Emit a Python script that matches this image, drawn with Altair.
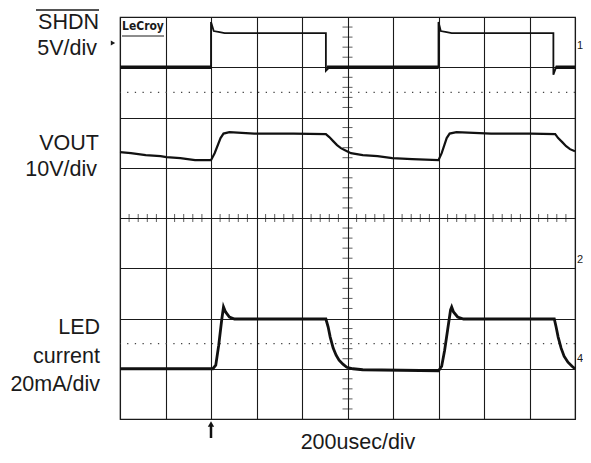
import altair as alt
import pandas as pd

# time axis in microseconds (200 us/div, 10 div), vertical in screen divisions (8 div)
shdn_t = [0, 400, 400, 412, 438, 460, 905, 905, 920, 1400, 1400, 1410, 1436, 1458, 1905, 1905, 1917, 2000]
shdn_y = [7.0, 7.0, 7.9, 7.72, 7.70, 7.68, 7.68, 6.93, 7.0, 7.0, 7.9, 7.72, 7.70, 7.68, 7.68, 6.85, 7.0, 7.0]

shdn_low_start = [0, 910, 1915]
shdn_low_end = [400, 1400, 2000]

vout_t = [0, 48, 113, 178, 204, 265, 330, 400, 416, 442, 455, 481, 590, 763, 905, 920, 937, 954, 971,
          989, 1015, 1067, 1132, 1197, 1284, 1400, 1414, 1436, 1449, 1479, 1631, 1805, 1913, 1926,
          1944, 1961, 1978, 2000]
vout_y = [5.31, 5.29, 5.25, 5.23, 5.21, 5.19, 5.15, 5.15, 5.29, 5.59, 5.68, 5.71, 5.68, 5.68, 5.67, 5.61,
          5.53, 5.45, 5.39, 5.35, 5.29, 5.25, 5.23, 5.19, 5.17, 5.15, 5.29, 5.59, 5.68, 5.71, 5.68, 5.68,
          5.67, 5.59, 5.51, 5.43, 5.37, 5.33]

led_t = [0, 408, 421, 434, 447, 455, 464, 481, 503, 905, 915, 924, 937, 950, 963, 980, 997, 1024, 1067,
         1400, 1414, 1427, 1440, 1453, 1458, 1466, 1484, 1510, 1909, 1917, 1926, 1939, 1952, 1969,
         1987, 2000]
led_y = [1.0, 1.0, 1.07, 1.47, 1.97, 2.23, 2.13, 2.03, 1.99, 1.99, 1.83, 1.63, 1.41, 1.27, 1.17, 1.09,
         1.03, 1.0, 0.98, 0.96, 1.05, 1.37, 1.77, 2.17, 2.23, 2.13, 2.03, 1.99, 1.99, 1.83, 1.63, 1.41,
         1.25, 1.13, 1.05, 1.0]

x_grid = [0, 200, 400, 600, 800, 1000, 1200, 1400, 1600, 1800, 2000]
y_grid = [0, 1, 2, 3, 4, 5, 6, 7, 8]
center_x_ticks = [i * 40 for i in range(1, 50) if i % 5 != 0]
center_y_ticks = [i * 0.2 for i in range(1, 40) if i % 5 != 0]
dotted_levels = [6.5, 1.5]
trigger_t = [400]

FONT = "Liberation Sans"
INK = "#1a1a1a"
FS = 21.5

xs = alt.Scale(domain=[0, 2000], nice=False, zero=False)
ys = alt.Scale(domain=[0, 8], nice=False, zero=False)

one = pd.DataFrame({"a": [0]})

grid = alt.Chart(one).mark_point(opacity=0).encode(
    x=alt.X("a:Q", scale=xs, axis=alt.Axis(values=x_grid, grid=True, gridColor=INK, gridWidth=1.1,
                                           gridOpacity=1, labels=False, ticks=False, domain=False, title=None)),
    y=alt.Y("a:Q", scale=ys, axis=alt.Axis(values=y_grid, grid=True, gridColor=INK, gridWidth=1.1,
                                           gridOpacity=1, labels=False, ticks=False, domain=False, title=None)),
)

dots = alt.Chart(pd.DataFrame({"y": dotted_levels})).mark_rule(
    color="#444", strokeWidth=1.2, strokeDash=[1.3, 6.4]
).encode(y=alt.Y("y:Q", scale=ys))

xticks = alt.Chart(pd.DataFrame({"t": center_x_ticks})).mark_tick(
    orient="vertical", size=8, thickness=1, color=INK
).encode(x=alt.X("t:Q", scale=xs), y=alt.datum(4, scale=ys))

yticks = alt.Chart(pd.DataFrame({"v": center_y_ticks})).mark_tick(
    orient="horizontal", size=10, thickness=1, color=INK
).encode(y=alt.Y("v:Q", scale=ys), x=alt.datum(1000, scale=xs))

def trace(t, y, w):
    return alt.Chart(pd.DataFrame({"t": t, "y": y, "i": list(range(len(t)))})).mark_line(
        color="#111", strokeWidth=w, interpolate="linear"
    ).encode(x=alt.X("t:Q", scale=xs), y=alt.Y("y:Q", scale=ys), order="i:Q")

shdn = trace(shdn_t, shdn_y, 1.8)
shdn_low = alt.Chart(pd.DataFrame({"a": shdn_low_start, "b": shdn_low_end, "y": [7.0] * 3})).mark_rule(
    color="#111", strokeWidth=3.5
).encode(x=alt.X("a:Q", scale=xs), x2="b:Q", y=alt.Y("y:Q", scale=ys))
vout = trace(vout_t, vout_y, 2.2)
led = trace(led_t, led_y, 2.8)

trig = alt.Chart(pd.DataFrame({"t": trigger_t})).mark_rule(color="#111", strokeWidth=2.5).encode(
    x=alt.X("t:Q", scale=xs), y=alt.value(409), y2=alt.value(421))
trig_head = alt.Chart(pd.DataFrame({"t": trigger_t})).mark_point(
    shape="triangle-up", filled=True, color="#111", size=40, opacity=1
).encode(x=alt.X("t:Q", scale=xs), y=alt.value(407))

def label(txt, x, y, size=FS, align="right", weight="normal", font=FONT, baseline="middle"):
    return alt.Chart(one).mark_text(text=txt, align=align, baseline=baseline, fontSize=size,
                                    font=font, fontWeight=weight, color=INK).encode(
        x=alt.value(x), y=alt.value(y))

texts = [
    label("SHDN", -21, 6),
    label("5V/div", -23, 32),
    label("VOUT", -21, 127),
    label("10V/div", -23, 153),
    label("LED", -20, 311),
    label("current", -20, 340),
    label("20mA/div", -20, 368),
    label("200usec/div", 238, 432, align="center", baseline="alphabetic"),
    label("LeCroy", 2, 9, size=12, align="left", weight="bold", font="DejaVu Sans Condensed"),
    label("1", 457, 29, size=11, align="left"),
    label("2", 457, 243, size=11, align="left"),
    label("4", 457, 342, size=11, align="left"),
]

overline = alt.Chart(one).mark_rule(color=INK, strokeWidth=1.5).encode(
    x=alt.value(-84), x2=alt.value(-21), y=alt.value(-7))
lecroy_line = alt.Chart(one).mark_rule(color=INK, strokeWidth=1).encode(
    x=alt.value(2), x2=alt.value(44), y=alt.value(19))
marker = alt.Chart(one).mark_point(shape="triangle-right", filled=True, color=INK, size=25, opacity=1).encode(
    x=alt.value(-7), y=alt.value(26))

chart = alt.layer(grid, dots, xticks, yticks, shdn_low, shdn, vout, led, trig, trig_head,
                  overline, lecroy_line, marker, *texts).properties(
    width=455, height=402,
    autosize=alt.AutoSizeParams(type="none"),
    padding={"left": 112, "top": 9, "right": 8, "bottom": 35},
    background="white",
).configure_view(stroke=INK, strokeWidth=1.2)

chart.save("out.html", embed_options={"renderer": "svg", "actions": False})
